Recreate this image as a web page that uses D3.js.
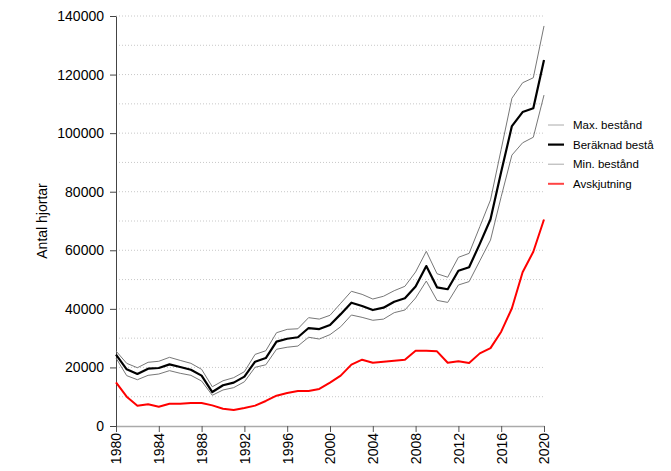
<!DOCTYPE html>
<html>
<head>
<meta charset="utf-8">
<title>Antal hjortar</title>
<script src="https://d3js.org/d3.v7.min.js"></script>
<style>
  body { margin: 0; background: #fff; }
  svg { font-family: "Liberation Sans", Arial, sans-serif; }
</style>
</head>
<body>
<svg id="chart" width="671" height="471"></svg>
<script>
// years 1980-2020
var years = d3.range(1980, 2021);

var maxBestand = [25600, 21400, 19900, 21750, 22100, 23450, 22400, 21400, 19350, 13400,
  15450, 16500, 18550, 24450, 25700, 31850, 33000, 33200, 37000, 36500,
  37800, 41900, 46000, 44950, 43350, 44300, 46200, 47700, 52600, 59650,
  52000, 50800, 57600, 58950, 68050, 77200, 94500, 111900, 117200, 118900, 136600];

var beraknad = [24400, 19350, 17750, 19570, 19800, 21050, 20150, 19200, 17200, 11600,
  13900, 14800, 16850, 21950, 23200, 28800, 29800, 30300, 33450, 33100,
  34500, 38200, 42100, 41000, 39600, 40400, 42450, 43600, 47600, 54600,
  47350, 46700, 53000, 54200, 62200, 70600, 86800, 102400, 107200, 108500, 125000];

var minBestand = [23200, 17200, 15800, 17300, 17750, 18900, 18000, 17300, 15350, 10500,
  12300, 13100, 15100, 20050, 20900, 26200, 26900, 27300, 30300, 29700,
  31200, 33900, 37900, 37100, 36100, 36500, 38700, 39600, 43700, 49500,
  42900, 42200, 48150, 49300, 56400, 63500, 78300, 92500, 96700, 98600, 113000];

var avskjutning = [14900, 10000, 6950, 7400, 6600, 7600, 7600, 7850, 7850, 7050,
  5900, 5450, 6150, 6950, 8550, 10350, 11250, 11950, 11950, 12650,
  14800, 17200, 20950, 22650, 21600, 21950, 22300, 22650, 25700, 25700,
  25500, 21600, 22100, 21500, 24800, 26600, 32200, 40200, 52500, 59500, 70500];

var yTicks = [0, 20000, 40000, 60000, 80000, 100000, 120000, 140000];
var xTicks = [1980, 1984, 1988, 1992, 1996, 2000, 2004, 2008, 2012, 2016, 2020];

var series = [
  { name: "Max. bestånd", values: maxBestand, color: "#777", width: 1 },
  { name: "Beräknad bestå", values: beraknad, color: "#000", width: 2.2 },
  { name: "Min. bestånd", values: minBestand, color: "#777", width: 1 },
  { name: "Avskjutning", values: avskjutning, color: "#ff0000", width: 2 }
];

var svg = d3.select("#chart");

var x = d3.scaleLinear().domain([1980, 2020]).range([116, 544]);
var y = d3.scaleLinear().domain([0, 140000]).range([426, 16]);

// dotted grid every 10000
svg.append("g")
  .selectAll("line")
  .data(d3.range(10000, 140001, 10000))
  .join("line")
  .attr("x1", x(1980))
  .attr("x2", x(2020))
  .attr("y1", function(d) { return y(d); })
  .attr("y2", function(d) { return y(d); })
  .attr("stroke", "#c8c8c8")
  .attr("stroke-width", 1)
  .attr("stroke-dasharray", "1,2");

// x axis
var xAxis = svg.append("g")
  .attr("transform", "translate(0," + y(0) + ")")
  .call(d3.axisBottom(x).tickValues(xTicks).tickFormat(d3.format("d")).tickSize(6).tickSizeOuter(0));
xAxis.select(".domain").attr("stroke", "#aaa").attr("stroke-width", 1.5);
xAxis.selectAll(".tick line").attr("stroke", "#555");
xAxis.selectAll("text")
  .attr("font-size", 14)
  .attr("fill", "#000")
  .attr("transform", "rotate(-90)")
  .attr("text-anchor", "end")
  .attr("x", -7)
  .attr("y", 0)
  .attr("dy", "0.35em");

// y axis
var yAxis = svg.append("g")
  .attr("transform", "translate(" + x(1980) + ",0)")
  .call(d3.axisLeft(y).tickValues(yTicks).tickFormat(d3.format("d")).tickSize(6).tickSizeOuter(0));
yAxis.select(".domain").attr("stroke", "#444");
yAxis.selectAll(".tick line").attr("stroke", "#444");
yAxis.selectAll("text").attr("font-size", 14).attr("fill", "#000").attr("x", -12);

svg.append("text")
  .attr("transform", "translate(47," + y(70000) + ") rotate(-90)")
  .attr("text-anchor", "middle")
  .attr("font-size", 14)
  .text("Antal hjortar");

// lines
var line = d3.line()
  .x(function(d, i) { return x(years[i]); })
  .y(function(d) { return y(d); });

svg.append("g")
  .selectAll("path")
  .data(series)
  .join("path")
  .attr("d", function(s) { return line(s.values); })
  .attr("fill", "none")
  .attr("stroke", function(s) { return s.color; })
  .attr("stroke-width", function(s) { return s.width; })
  .attr("stroke-linejoin", "round");

// legend
var legend = svg.append("g")
  .selectAll("g")
  .data(series)
  .join("g")
  .attr("transform", function(s, i) { return "translate(548," + (125 + i * 19.6) + ")"; });

legend.append("line")
  .attr("x1", 0).attr("x2", 16)
  .attr("stroke", function(s) { return s.name == "Avskjutning" ? "#ff4444" : (s.name.indexOf("Ber") == 0 ? "#000" : "#aaa"); })
  .attr("stroke-width", function(s) { return s.width; });

legend.append("text")
  .attr("x", 25)
  .attr("dy", "0.35em")
  .attr("font-size", 11.5)
  .text(function(s) { return s.name; });
</script>
</body>
</html>
